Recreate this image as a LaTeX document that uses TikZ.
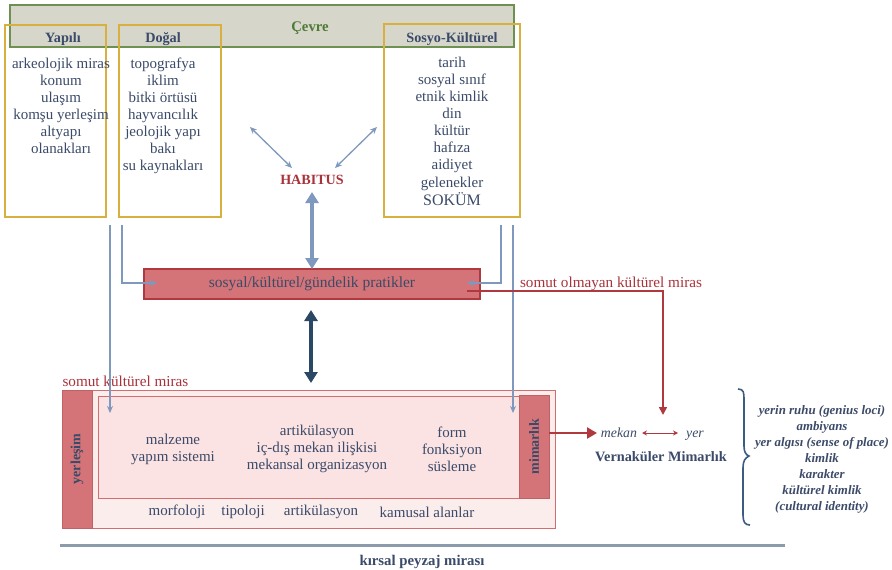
\documentclass[tikz,border=0pt]{standalone}
\usepackage{fontspec}
\setmainfont{Liberation Serif}
\usetikzlibrary{arrows.meta}
\definecolor{txt}{HTML}{3A4A68}
\definecolor{gold}{HTML}{D8B040}
\definecolor{grn}{HTML}{6E9152}
\definecolor{grntxt}{HTML}{4F7A35}
\definecolor{grayfill}{HTML}{D6D6CB}
\definecolor{blu}{HTML}{7F98BD}
\definecolor{navy}{HTML}{2B4766}
\definecolor{redtxt}{HTML}{A8323A}
\definecolor{redfill}{HTML}{D47478}
\definecolor{redline}{HTML}{B0393F}
\definecolor{pinkout}{HTML}{FCEDED}
\definecolor{pinkin}{HTML}{FBE2E3}
\definecolor{pinkline}{HTML}{D26D70}
\definecolor{rulecol}{HTML}{8C9BAB}
\definecolor{bracecol}{HTML}{3D5A80}
\tikzset{
  box/.style={inner sep=0pt, outer sep=0pt},
  envbox/.style={box, draw=grn, fill=grayfill, line width=1.6pt},
  goldbox/.style={box, draw=gold, line width=1.6pt},
  head/.style={font=\fontsize{14.2}{16}\selectfont\bfseries, text=txt},
  itemlist/.style={font=\fontsize{15}{17}\selectfont, text=txt, align=center, inner sep=0pt, anchor=north},
  thinarrow/.style={draw=blu, line width=1.3pt, -{Stealth[length=7pt,width=6pt]}},
  thindbl/.style={draw=blu, line width=1.3pt, {Stealth[length=7pt,width=6pt]}-{Stealth[length=7pt,width=6pt]}},
  redbox/.style={box, draw=redline, fill=redfill, line width=1.2pt, text=txt, font=\fontsize{15.5}{17}\selectfont},
  outerbox/.style={box, draw=pinkline, fill=pinkout, line width=1pt},
  innerbox/.style={box, draw=pinkline, fill=pinkin, line width=1pt},
  bar/.style={box, draw=redline!80, fill=redfill, line width=0.8pt},
  bartext/.style={font=\fontsize{14}{16}\selectfont\bfseries, text=txt, rotate=90},
  body/.style={font=\fontsize{15}{17}\selectfont, text=txt, align=center},
  redlab/.style={font=\fontsize{15.2}{17}\selectfont, text=redtxt},
  rightlist/.style={font=\fontsize{12.9}{16}\selectfont\bfseries\itshape, text=txt, align=center, inner sep=0pt, anchor=north}
}
\begin{document}
\begin{tikzpicture}[x=1pt,y=-1pt]
\useasboundingbox (0,0) rectangle (892,570);
% Cevre
\node[envbox, minimum width=504, minimum height=42, anchor=north west] (cevre) at (10,5) {};
\node[font=\fontsize{14.7}{16}\selectfont\bfseries, text=grntxt] (cevret) at (310,28) {Çevre};
% three boxes
\node[goldbox, minimum width=101, minimum height=192, anchor=north west] (yapili) at (5,25) {};
\node[goldbox, minimum width=102, minimum height=192, anchor=north west] (dogal) at (119,25) {};
\node[goldbox, minimum width=136, minimum height=193, anchor=north west] (sosyo) at (384,24) {};
\node[head] (yapilit) at (63,39) {Yapılı};
\node[head] (dogalt) at (163,39) {Doğal};
\node[head] (sosyot) at (452,39) {Sosyo-Kültürel};
\node[itemlist] (ylist) at (61,58) {arkeolojik miras\\konum\\ulaşım\\komşu yerleşim\\altyapı\\olanakları};
\node[itemlist] (dlist) at (163,58) {topografya\\iklim\\bitki örtüsü\\hayvancılık\\jeolojik yapı\\bakı\\su kaynakları};
\node[itemlist] (slist) at (452,57) {tarih\\sosyal sınıf\\etnik kimlik\\din\\kültür\\hafıza\\aidiyet\\[1pt]gelenekler\\[1pt]{\fontsize{16}{17}\selectfont SOKÜM}};
% habitus
\node[font=\fontsize{14.1}{16}\selectfont\bfseries, text=redtxt] (habitus) at (312,180) {HABITUS};
\coordinate (hl1) at (250,127);
\coordinate (hl2) at (292,168);
\coordinate (hr1) at (377,127);
\coordinate (hr2) at (335,168);
\draw[thindbl] (hl1) -- (hl2);
\draw[thindbl] (hr1) -- (hr2);
% practices box
\node[redbox, minimum width=336, minimum height=30] (prat) at (312,284) {sosyal/kültürel/gündelik pratikler};
\draw[draw=blu, line width=4pt, {Triangle[length=11pt,width=13pt]}-{Triangle[length=11pt,width=13pt]}] (habitus.south |- 0,192) -- (habitus.south |- prat.north) ;
\coordinate (nv1) at (311,310);
\coordinate (nv2) at (311,383);
\draw[draw=navy, line width=3.5pt, {Triangle[length=11pt,width=13pt]}-{Triangle[length=11pt,width=13pt]}] (nv1) -- (nv2);
% lower box
\node[outerbox, minimum width=493, minimum height=138, anchor=north west] (somut) at (62,390) {};
\node[innerbox, minimum width=421, minimum height=102, anchor=north west] (inner) at (98,396) {};
\node[bar, minimum width=30, minimum height=138, anchor=north west] (yerl) at (62,390) {};
\node[bartext] (yerlt) at (yerl.center) {yerleşim};
\node[bar, minimum width=30, minimum height=103, anchor=north west] (mim) at (519,395) {};
\node[bartext] (mimt) at (mim.center) {mimarlık};
\node[redlab, anchor=west] (somutlab) at (59,381) {somut kültürel miras};
\node[body] (malz) at (173,449) {malzeme\\yapım sistemi};
\node[body] (artik) at (317,449) {artikülasyon\\iç-dış mekan ilişkisi\\mekansal organizasyon};
\node[body] (form) at (452,449) {form\\fonksiyon\\süsleme};
\node[body] (morf) at (177,512) {morfoloji};
\node[body] (tipo) at (243,512) {tipoloji};
\node[body] (artik2) at (321,512) {artikülasyon};
\node[body] (kamu) at (427,512) {kamusal alanlar};
% connectors from boxes
\coordinate (ya) at (110,225);
\coordinate (yb) at (110,413);
\coordinate (da) at (122,225);
\coordinate (db) at (157,283);
\coordinate (sa) at (501,225);
\coordinate (sb) at (467,283);
\coordinate (sc) at (513,225);
\coordinate (sd) at (513,413);
\draw[thinarrow] (ya) -- (yb);
\draw[thinarrow] (da) |- (db);
\draw[thinarrow] (sa) |- (sb);
\draw[thinarrow] (sc) -- (sd);
% intangible heritage
\coordinate (ra) at (467,291);
\coordinate (rb) at (663,415);
\draw[draw=redline, line width=1.6pt, -{Triangle[length=8pt,width=8pt]}] (ra) -| (rb);
\node[redlab] (olmayan) at (611,284) {somut olmayan kültürel miras};
% right part
\node[font=\fontsize{13.8}{16}\selectfont\itshape, text=txt, anchor=base] (mekan) at (619,437) {mekan};
\node[font=\fontsize{13.8}{16}\selectfont\itshape, text=txt, anchor=base] (yer) at (695,437) {yer};
\coordinate (mk1) at (642,433);
\coordinate (mk2) at (678,433);
\coordinate (mimout) at (549,433);
\coordinate (mkin) at (597,433);
\draw[draw=redline, line width=2.6pt, -{Triangle[length=10pt,width=11pt]}] (mimout) -- (mkin);
\draw[draw=redline, line width=1pt, {Stealth[length=5pt,width=5pt]}-{Stealth[length=5pt,width=5pt]}] (mk1) -- (mk2);
\node[font=\fontsize{14.3}{16}\selectfont\bfseries, text=txt] (vern) at (661,457) {Vernaküler Mimarlık};
\draw[draw=bracecol, line width=1.6pt] (738,389) .. controls (744,389) and (744,393) .. (744,400) -- (744,446) .. controls (744,452) and (746,455) .. (749,456) .. controls (745,458) and (743,461) .. (743,468) -- (743,515) .. controls (743,522) and (745,525) .. (750,525);
\node[rightlist] (rlist) at (822,405) {yerin ruhu (genius loci)\\ambiyans\\yer algısı (sense of place)\\kimlik\\karakter\\kültürel kimlik\\(cultural identity)};
% bottom rule
\coordinate (rl1) at (60,545);
\coordinate (rl2) at (785,545);
\draw[draw=rulecol, line width=3pt] (rl1) -- (rl2);
\node[font=\fontsize{14.8}{16}\selectfont\bfseries, text=txt] (kirsal) at (422,562) {kırsal peyzaj mirası};
\end{tikzpicture}
\end{document}
